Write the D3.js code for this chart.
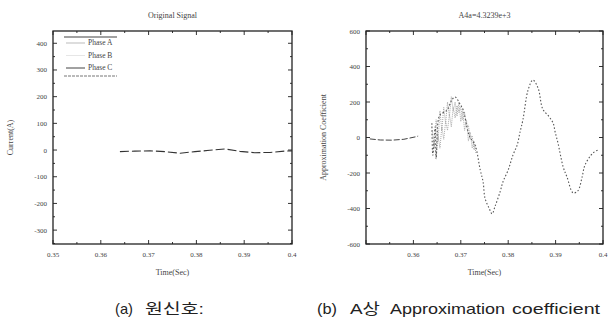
<!DOCTYPE html>
<html>
<head>
<meta charset="utf-8">
<script src="https://cdn.jsdelivr.net/npm/d3@7"></script>
<style>
body { margin:0; background:#fff; }
svg text { font-family: 'Liberation Serif', 'DejaVu Serif', serif; fill:#444; }
svg text.cap { font-family: 'Liberation Sans', 'Noto Sans CJK KR', sans-serif; fill:#222; }
</style>
</head>
<body>
<script>
// left panel: original signal (only the near-zero trace survives in the scan)
var origT = [0.3640, 0.3671, 0.3703, 0.3734, 0.3766, 0.3797, 0.3828, 0.3860, 0.3891, 0.3922, 0.3954, 0.3985, 0.4000];
var origV = [-6, -4, -3, -6, -12, -6, -1, 4, -5, -10, -9, -4, -3];
var origYTicks = [-300, -200, -100, 0, 100, 200, 300, 400];
var legendNames = ["Phase A", "Phase B", "Phase C"];

// right panel: A-phase approximation coefficient
var preT = [0.3508, 0.3530, 0.3555, 0.3580, 0.3605, 0.3610];
var preV = [-8, -14, -15, -10, 4, 8];
var coefT = [0.3639, 0.3641, 0.3646, 0.3648, 0.3652, 0.3656, 0.3671, 0.3681, 0.3688, 0.3698, 0.3705, 0.3713, 0.3719,
  0.3730, 0.3741, 0.3747, 0.3751, 0.3760, 0.3766, 0.3772, 0.3783, 0.3789, 0.3800, 0.3810, 0.3819, 0.3825, 0.3831,
  0.3842, 0.3852, 0.3863, 0.3873, 0.3886, 0.3895, 0.3899, 0.3905, 0.3916, 0.3924, 0.3937, 0.3947, 0.3956, 0.3962,
  0.3979, 0.3990];
var coefV = [80, -100, 60, -120, 90, 127, 155, 211, 228, 190, 155, 59, 3,
  -42, -183, -249, -341, -400, -430, -390, -305, -249, -183, -99, -42, 31, 99,
  268, 324, 279, 160, 118, 80, 31, -31, -166, -222, -312, -300, -222, -155,
  -87, -70];
// grey jitter band around the first peak
var noiseT = [0.3640, 0.3644, 0.3648, 0.3652, 0.3656, 0.3660, 0.3664, 0.3668, 0.3672, 0.3676, 0.3680, 0.3684,
  0.3688, 0.3692, 0.3696, 0.3700, 0.3704, 0.3708, 0.3712, 0.3716, 0.3720, 0.3724, 0.3728, 0.3732];
var noiseV = [40, -60, 100, -20, 150, 40, 170, 80, 200, 120, 230, 150, 200, 120, 200, 90, 150, 40, 100, -20, 30, -60, -20, -90];
var noise2V = [-80, -20, -110, 10, -60, 60, -10, 90, 40, 130, 60, 170, 110, 180, 140, 170, 100, 140, 60, 70, -10, 10, -70, -40];
var coefYTicks = [-600, -400, -200, 0, 200, 400, 600];
var xTicks = [0.35, 0.36, 0.37, 0.38, 0.39, 0.4];

var capA = ["(a)", "원신호:"];
var capB = ["(b)", "A상", "Approximation", "coefficient"];

var svg = d3.select("body").append("svg").attr("width", 613).attr("height", 323);

function panel(x0, x1, y0, y1, ydom, yticks, ylab, title, xLabelFirst) {
  var x = d3.scaleLinear().domain([0.35, 0.4]).range([x0, x1]);
  var y = d3.scaleLinear().domain(ydom).range([y1, y0]);
  var g = svg.append("g");
  var minorX = d3.range(0.355, 0.4, 0.01);
  var step = yticks[1] - yticks[0];
  var minorY = yticks.map(function(v) { return v + step / 2; }).filter(function(v) { return v > ydom[0] && v < ydom[1]; });
  if (yticks[0] - step / 2 > ydom[0]) minorY.push(yticks[0] - step / 2);

  // inward ticks on all four sides
  function xt(vals, len) {
    vals.forEach(function(v) {
      g.append("line").attr("x1", x(v)).attr("x2", x(v)).attr("y1", y1).attr("y2", y1 - len).attr("stroke", "#333");
      g.append("line").attr("x1", x(v)).attr("x2", x(v)).attr("y1", y0).attr("y2", y0 + len).attr("stroke", "#333");
    });
  }
  function yt(vals, len) {
    vals.forEach(function(v) {
      g.append("line").attr("y1", y(v)).attr("y2", y(v)).attr("x1", x0).attr("x2", x0 + len).attr("stroke", "#333");
      g.append("line").attr("y1", y(v)).attr("y2", y(v)).attr("x1", x1).attr("x2", x1 - len).attr("stroke", "#333");
    });
  }
  xt(xTicks, 4); xt(minorX, 2);
  yt(yticks, 4); yt(minorY, 2);

  g.append("rect").attr("x", x0).attr("y", y0).attr("width", x1 - x0).attr("height", y1 - y0)
    .attr("fill", "none").attr("stroke", "#222").attr("stroke-width", 1.3);

  xTicks.forEach(function(v, i) {
    if (i === 0 && !xLabelFirst) return;
    g.append("text").attr("x", x(v)).attr("y", y1 + 13).attr("text-anchor", "middle")
      .attr("font-size", 7).text(v === 0.4 ? "0.4" : v.toFixed(2));
  });
  yticks.forEach(function(v) {
    g.append("text").attr("x", x0 - 6).attr("y", y(v) + 2.5).attr("text-anchor", "end")
      .attr("font-size", 7).text(v);
  });
  g.append("text").attr("x", (x0 + x1) / 2).attr("y", y1 + 31).attr("text-anchor", "middle")
    .attr("font-size", 8).text("Time(Sec)");
  g.append("text").attr("x", (x0 + x1) / 2).attr("y", 18).attr("text-anchor", "middle")
    .attr("font-size", 8).text(title);
  g.append("text").attr("transform", "translate(" + (x0 - 40) + "," + ((y0 + y1) / 2) + ") rotate(-90)")
    .attr("text-anchor", "middle").attr("font-size", 8).text(ylab);
  return { x: x, y: y, g: g };
}

// (a) original signal
var a = panel(53, 292, 31, 244, [-352, 446], origYTicks, "Current(A)", "Original Signal", true);
var lineA = d3.line().x(function(d) { return a.x(d[0]); }).y(function(d) { return a.y(d[1]); });
a.g.append("path").datum(d3.zip(origT, origV)).attr("d", lineA)
  .attr("fill", "none").attr("stroke", "#333").attr("stroke-width", 1.1).attr("stroke-dasharray", "9,3");

// legend
var lg = a.g.append("g");
lg.append("line").attr("x1", 64).attr("x2", 117).attr("y1", 37).attr("y2", 37).attr("stroke", "#444").attr("stroke-width", 1.2);
lg.append("line").attr("x1", 64).attr("x2", 117).attr("y1", 76).attr("y2", 76).attr("stroke", "#777").attr("stroke-dasharray", "3,1");
var lgStroke = ["#bbb", "#e6e6e6", "#444"];
legendNames.forEach(function(n, i) {
  var yy = 45 + i * 12.5;
  lg.append("line").attr("x1", 66).attr("x2", 85).attr("y1", yy - 2).attr("y2", yy - 2)
    .attr("stroke", lgStroke[i]).attr("stroke-width", 1);
  lg.append("text").attr("x", 88).attr("y", yy).attr("font-size", 7.5).attr("fill", "#555").text(n);
});

// (b) approximation coefficient
var b = panel(366, 603, 31, 244, [-600, 600], coefYTicks, "Approximation Coefficient", "A4a=4.3239e+3", false);
var lineB = d3.line().x(function(d) { return b.x(d[0]); }).y(function(d) { return b.y(d[1]); });
[noiseV, noise2V].forEach(function(nv) {
  b.g.append("path").datum(d3.zip(noiseT, nv)).attr("d", lineB)
    .attr("fill", "none").attr("stroke", "#aaa").attr("stroke-width", 1).attr("stroke-dasharray", "1,1");
});
b.g.append("path").datum(d3.zip(preT, preV)).attr("d", lineB)
  .attr("fill", "none").attr("stroke", "#444").attr("stroke-width", 1).attr("stroke-dasharray", "6,2");
b.g.append("path").datum(d3.zip(coefT, coefV)).attr("d", lineB.curve(d3.curveCatmullRom))
  .attr("fill", "none").attr("stroke", "#555").attr("stroke-width", 1.1).attr("stroke-dasharray", "1.5,2");

// captions, word by word (the scan spaces them out)
var capAx = [115, 145], capAw = [18, 59];
var capBx = [317, 350, 390, 512], capBw = [20, 30, 115, 88];
capA.forEach(function(w, i) {
  svg.append("text").attr("class", "cap").attr("x", capAx[i]).attr("y", 314).attr("font-size", 15)
    .attr("textLength", capAw[i]).attr("lengthAdjust", "spacingAndGlyphs").text(w);
});
capB.forEach(function(w, i) {
  svg.append("text").attr("class", "cap").attr("x", capBx[i]).attr("y", 314).attr("font-size", 15)
    .attr("textLength", capBw[i]).attr("lengthAdjust", "spacingAndGlyphs").text(w);
});
</script>
</body>
</html>
